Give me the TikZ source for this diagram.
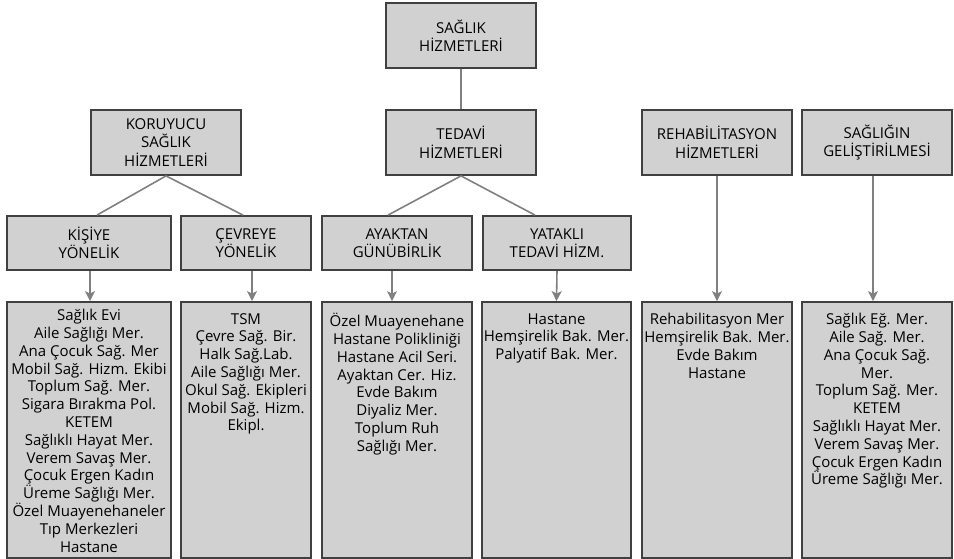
\documentclass[tikz,border=0pt]{standalone}
\usepackage{fontspec}
\setmainfont{Open Sans}
\usepackage{xcolor}
\usepackage{tikz}
\usetikzlibrary{arrows.meta,positioning}

\tikzset{
  box/.style={draw=black!75,fill=black!18,line width=1.8pt,inner sep=0pt,align=center,
    font=\fontsize{15}{18.5}\selectfont},
  listbox/.style={box,minimum height=256pt},
  listtext/.style={inner sep=0pt,align=center,font=\fontsize{15}{17.8}\selectfont},
  link/.style={draw=black!50,line width=1.6pt},
  arr/.style={link,-{Stealth[length=10pt,width=10pt,inset=2.5pt]}}
}

\begin{document}
\begin{tikzpicture}[x=1pt,y=-1pt]
\useasboundingbox (0,0) rectangle (954,559);

% The top levels
\node[box,minimum width=150pt,minimum height=65pt] (hiz) at (461,35.5) {SAĞLIK\\HİZMETLERİ};
\node[box,minimum width=150pt,minimum height=65pt] (kor) at (166,142.5) {KORUYUCU\\SAĞLIK\\HİZMETLERİ};
\node[box,minimum width=150pt,minimum height=65pt] (ted) at (461,142.5) {TEDAVİ\\HİZMETLERİ};
\node[box,minimum width=150pt,minimum height=65pt] (reh) at (717,142.5) {REHABİLİTASYON\\HİZMETLERİ};
\node[box,minimum width=150pt,minimum height=65pt] (gel) at (877,142.5) {SAĞLIĞIN\\GELİŞTİRİLMESİ};

% The sub levels
\node[box,minimum width=164pt,minimum height=54pt] (kis) at (89,243) {KİŞİYE\\YÖNELİK};
\node[box,minimum width=130pt,minimum height=54pt] (cev) at (246,243) {ÇEVREYE\\YÖNELİK};
\node[box,minimum width=150pt,minimum height=54pt] (aya) at (397,243) {AYAKTAN\\GÜNÜBİRLİK};
\node[box,minimum width=148pt,minimum height=54pt] (yat) at (557,243) {YATAKLI\\TEDAVİ HİZM.};

% The lists
\node[listbox,minimum width=164pt] (kisL) at (89,430) {};
\node[listbox,minimum width=130pt] (cevL) at (246,430) {};
\node[listbox,minimum width=150pt] (ayaL) at (397,430) {};
\node[listbox,minimum width=149pt] (yatL) at (556.5,430) {};
\node[listbox,minimum width=150pt] (rehL) at (717,430) {};
\node[listbox,minimum width=150pt] (gelL) at (877,430) {};

\node[listtext,below=8pt of kisL.north] (kisT) {Sağlık Evi\\Aile Sağlığı Mer.\\Ana Çocuk Sağ. Mer\\Mobil Sağ. Hizm. Ekibi\\Toplum Sağ. Mer.\\Sigara Bırakma Pol.\\KETEM\\Sağlıklı Hayat Mer.\\Verem Savaş Mer.\\Çocuk Ergen Kadın\\Üreme Sağlığı Mer.\\Özel Muayenehaneler\\Tıp Merkezleri\\Hastane};
\node[listtext,below=12pt of cevL.north] (cevT) {TSM\\Çevre Sağ. Bir.\\Halk Sağ.Lab.\\Aile Sağlığı Mer.\\Okul Sağ. Ekipleri\\Mobil Sağ. Hizm.\\Ekipl.};
\node[listtext,below=12pt of ayaL.north] (ayaT) {Özel Muayenehane\\Hastane Polikliniği\\Hastane Acil Seri.\\Ayaktan Cer. Hiz.\\Evde Bakım\\Diyaliz Mer.\\Toplum Ruh\\Sağlığı Mer.};
\node[listtext,below=12pt of yatL.north] (yatT) {Hastane\\Hemşirelik Bak. Mer.\\Palyatif Bak. Mer.};
\node[listtext,below=12pt of rehL.north] (rehT) {Rehabilitasyon Mer\\Hemşirelik Bak. Mer.\\Evde Bakım\\Hastane};
\node[listtext,below=12pt of gelL.north] (gelT) {Sağlık Eğ. Mer.\\Aile Sağ. Mer.\\Ana Çocuk Sağ.\\Mer.\\Toplum Sağ. Mer.\\KETEM\\Sağlıklı Hayat Mer.\\Verem Savaş Mer.\\Çocuk Ergen Kadın\\Üreme Sağlığı Mer.};

% The lines
\draw[link] (hiz.south) -- (ted.north);
\draw[link] (kor.south) -- ([xshift=8pt]kis.north);
\draw[link] (kor.south) -- ([xshift=-3pt]cev.north);
\draw[link] (ted.south) -- ([xshift=-9pt]aya.north);
\draw[link] (ted.south) -- ([xshift=-22pt]yat.north);

% The arrows
\draw[arr] ([xshift=1pt]kis.south) -- ([xshift=1pt]kisL.north);
\draw[arr] ([xshift=6pt]cev.south) -- ([xshift=6pt]cevL.north);
\draw[arr] ([xshift=-5pt]aya.south) -- ([xshift=-5pt]ayaL.north);
\draw[arr] (yat.south) -- (yatL.north);
\draw[arr] (reh.south) -- (rehL.north);
\draw[arr] ([xshift=-4pt]gel.south) -- ([xshift=-4pt]gelL.north);
\end{tikzpicture}
\end{document}
